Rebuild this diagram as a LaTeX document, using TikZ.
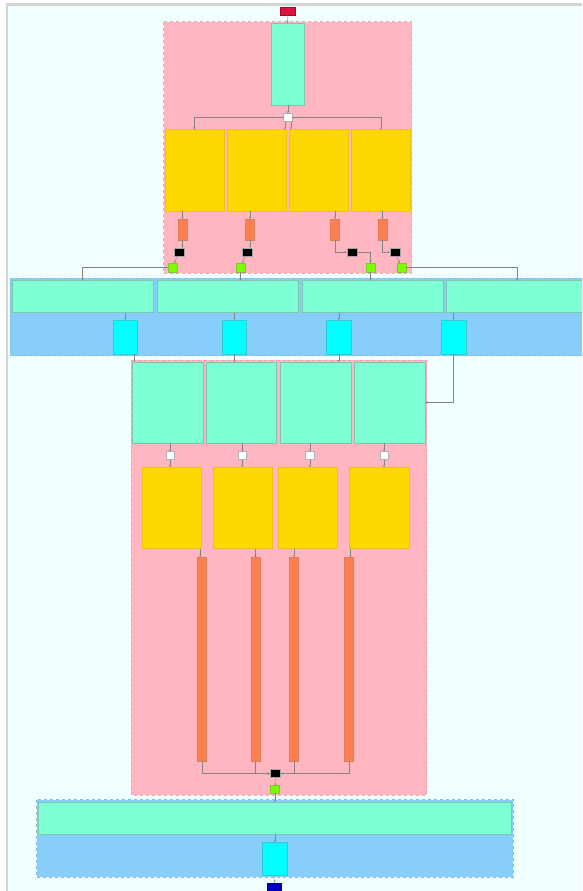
\documentclass[tikz,border=0pt]{standalone}
\usepackage{tikz}
\usetikzlibrary{positioning,calc,arrows.meta}
\definecolor{pagebg}{HTML}{F0FFFF}
\definecolor{framegray}{HTML}{D6D6D6}
\definecolor{clusterpink}{HTML}{FFB6C1}
\definecolor{clusterblue}{HTML}{87CEFA}
\definecolor{aquafill}{HTML}{7FFFD4}
\definecolor{goldfill}{HTML}{FFD700}
\definecolor{coralfill}{HTML}{FF7F50}
\definecolor{cyanfill}{HTML}{00FFFF}
\definecolor{lawnfill}{HTML}{7CFC00}
\definecolor{crimsonfill}{HTML}{DC143C}
\definecolor{sinkfill}{HTML}{0000CD}
\definecolor{wirecol}{HTML}{858585}
\def\WireTip{2.4pt}
\tikzset{
  wire/.style={-{Stealth[length=\WireTip,width=2pt]},draw=wirecol,line width=0.4pt},
  sz/.style 2 args={minimum width=#1pt,minimum height=#2pt},
  blk/.style={rectangle,inner sep=0pt,outer sep=0pt,line width=0.5pt},
  aquabox/.style={blk,fill=aquafill,draw=aquafill!55!gray},
  goldbox/.style={blk,fill=goldfill,draw=goldfill!75!brown},
  coralbox/.style={blk,fill=coralfill,draw=coralfill!70!gray},
  cyanbox/.style={blk,fill=cyanfill,draw=cyanfill!60!gray},
  splitbox/.style={blk,fill=white,draw=gray!60,sz={8.5}{8}},
  poolbox/.style={blk,fill=black,draw=gray!70,sz={10}{8.4}},
  outbox/.style={blk,fill=lawnfill,draw=lawnfill!60!gray,sz={9}{8.5}},
  pinkcluster/.style={fill=clusterpink,draw=clusterpink!80!gray,dashed,line width=0.5pt},
  bluecluster/.style={fill=clusterblue,draw=clusterblue!80!gray,dashed,line width=0.5pt}
}
\begin{document}
\begin{tikzpicture}[x=1pt,y=-1pt]
  \clip (0,0) rectangle (582,891);
  \fill[white] (0,0) rectangle (582,891);
  \fill[framegray] (6,3.5) rectangle (582,891);
  \fill[pagebg] (8,6.5) rectangle (582,891);

  % Clusters behind the nodes.
  \draw[pinkcluster] (163.7,21.7) rectangle (411.7,273.3);
  \draw[bluecluster] (10.4,278) rectangle (600,355.7);
  \draw[pinkcluster] (131,360) rectangle (426.7,795.3);
  \draw[bluecluster] (36.7,799.7) rectangle (513,877.3);

  % First block
  \node[blk,fill=crimsonfill,draw=crimsonfill!70!black,sz={15}{7.5}] (src) at (287.5,11.3) {};
  \node[aquabox,sz={33}{82}] (enc) at (287.8,64.3) {};
  \node[splitbox] (fork) at (287.8,117.5) {};

  \node[goldbox,sz={59}{81.3}] (blkA1) at (194.5,170.3) {};
  \node[goldbox,sz={59}{81.3}] (blkA2) at (256.7,170.3) {};
  \node[goldbox,sz={59}{81.3}] (blkA3) at (318.8,170.3) {};
  \node[goldbox,sz={59}{81.3}] (blkA4) at (380.8,170.3) {};

  \node[coralbox,sz={9}{21}] (actA1) at (182.5,229.5) {};
  \node[coralbox,sz={9}{21}] (actA2) at (250,229.5) {};
  \node[coralbox,sz={9}{21}] (actA3) at (335,229.5) {};
  \node[coralbox,sz={9}{21}] (actA4) at (382.5,229.5) {};

  \node[poolbox] (poolA1) at (179,252) {};
  \node[poolbox] (poolA2) at (247,252) {};
  \node[poolbox] (poolA3) at (352,252) {};
  \node[poolbox] (poolA4) at (395,252) {};

  \node[outbox] (outA1) at (172.5,267.5) {};
  \node[outbox] (outA2) at (240.5,267.5) {};
  \node[outbox] (outA3) at (370.5,267.5) {};
  \node[outbox] (outA4) at (401.5,267.5) {};

  \draw[wire] (src) -- (enc);
  \draw[wire] (enc) -- (fork);
  \draw[wire] (fork.west) -| (blkA1.north);
  \draw[wire] ([xshift=-3pt]fork.south) -- ([xshift=-3pt]fork.south |- blkA2.north);
  \draw[wire] ([xshift=3pt]fork.south) -- ([xshift=3pt]fork.south |- blkA3.north);
  \draw[wire] (fork.east) -| (blkA4.north);
  \draw[wire] (actA1.north |- blkA1.south) -- (actA1);
  \draw[wire] (actA2.north |- blkA2.south) -- (actA2);
  \draw[wire] (actA3.north |- blkA3.south) -- (actA3);
  \draw[wire] (actA4.north |- blkA4.south) -- (actA4);
  \draw[wire] (actA1.south) -- (actA1.south |- poolA1.north);
  \draw[wire] (actA2.south) -- (actA2.south |- poolA2.north);
  \draw[wire] (actA3.south) |- (poolA3.west);
  \draw[wire] (actA4.south) |- (poolA4.west);
  \draw[wire] (poolA1) -- (outA1);
  \draw[wire] (poolA2) -- (outA2);
  \draw[wire] (poolA3.east) -| (outA3.north);
  \draw[wire] (poolA4) -- (outA4);

  % Second block
  \node[aquabox,sz={141}{32}] (mergeB1) at (82.5,296.7) {};
  \node[aquabox,sz={141}{32}] (mergeB2) at (227.5,296.7) {};
  \node[aquabox,sz={141}{32}] (mergeB3) at (372.7,296.7) {};
  \node[aquabox,sz={141}{32}] (mergeB4) at (517,296.7) {};

  \node[cyanbox,sz={24.5}{34}] (projB1) at (125.4,337) {};
  \node[cyanbox,sz={24.5}{34}] (projB2) at (234.4,337) {};
  \node[cyanbox,sz={24.5}{34}] (projB3) at (338.8,337) {};
  \node[cyanbox,sz={24.5}{34}] (projB4) at (453.6,337) {};

  \draw[wire] (outA1.west) -| (mergeB1.north);
  \draw[wire] (outA2.south) -- (outA2.south |- mergeB2.north);
  \draw[wire] (outA3.south) -- (outA3.south |- mergeB3.north);
  \draw[wire] (outA4.east) -| (mergeB4.north);
  \draw[wire] (projB1.north |- mergeB1.south) -- (projB1);
  \draw[wire] (projB2.north |- mergeB2.south) -- (projB2);
  \draw[wire] (projB3.north |- mergeB3.south) -- (projB3);
  \draw[wire] (projB4.north |- mergeB4.south) -- (projB4);

  % Third block
  \node[aquabox,sz={71}{81}] (inC1) at (167.8,402.5) {};
  \node[aquabox,sz={70}{81}] (inC2) at (241.7,402.5) {};
  \node[aquabox,sz={71}{81}] (inC3) at (315.7,402.5) {};
  \node[aquabox,sz={71}{81}] (inC4) at (389.7,402.5) {};

  \node[splitbox] (forkC1) at (170,455.7) {};
  \node[splitbox] (forkC2) at (242.3,455.7) {};
  \node[splitbox] (forkC3) at (309.7,455.7) {};
  \node[splitbox] (forkC4) at (384,455.7) {};

  \node[goldbox,sz={59.4}{81.4}] (blkC1) at (172,508) {};
  \node[goldbox,sz={59}{81.4}] (blkC2) at (243.2,508) {};
  \node[goldbox,sz={59}{81.4}] (blkC3) at (307.8,508) {};
  \node[goldbox,sz={59.3}{81.4}] (blkC4) at (379.3,508) {};

  \node[coralbox,sz={9}{203.7}] (actC1) at (202.2,659.2) {};
  \node[coralbox,sz={9}{203.7}] (actC2) at (255.5,659.2) {};
  \node[coralbox,sz={9}{203.7}] (actC3) at (294,659.2) {};
  \node[coralbox,sz={9}{203.7}] (actC4) at (348.8,659.2) {};

  \node[poolbox,sz={10.7}{8.4}] (joinC) at (275.3,773.5) {};
  \node[outbox,sz={9}{7.6}] (outC) at (275.2,789.5) {};

  \draw[wire] ([xshift=9pt]projB1.south) -- ([xshift=9pt]projB1.south |- inC1.north);
  \draw[wire] (projB2.south) -- (projB2.south |- inC2.north);
  \draw[wire] (projB3.south) -- (projB3.south |- inC3.north);
  \draw[wire] (projB4.south) |- (inC4.east);
  \draw[wire] (forkC1.north |- inC1.south) -- (forkC1);
  \draw[wire] (forkC2.north |- inC2.south) -- (forkC2);
  \draw[wire] (forkC3.north |- inC3.south) -- (forkC3);
  \draw[wire] (forkC4.north |- inC4.south) -- (forkC4);
  \draw[wire] (forkC1.south) -- (forkC1.south |- blkC1.north);
  \draw[wire] (forkC2.south) -- (forkC2.south |- blkC2.north);
  \draw[wire] (forkC3.south) -- (forkC3.south |- blkC3.north);
  \draw[wire] (forkC4.south) -- (forkC4.south |- blkC4.north);
  \draw[wire] ([xshift=-2pt]actC1.north |- blkC1.south) -- ([xshift=-2pt]actC1.north);
  \draw[wire] (actC2.north |- blkC2.south) -- (actC2);
  \draw[wire] (actC3.north |- blkC3.south) -- (actC3);
  \draw[wire] ([xshift=1.5pt]actC4.north |- blkC4.south) -- ([xshift=1.5pt]actC4.north);
  \draw[wire] (actC1.south) |- (joinC.west);
  \draw[wire] (actC2.south) |- (joinC.west);
  \draw[wire] (actC3.south) |- (joinC.east);
  \draw[wire] (actC4.south) |- (joinC.east);
  \draw[wire] (joinC) -- (outC);

  % Last block
  \node[aquabox,sz={473}{31.7}] (mergeD) at (275.2,818.2) {};
  \node[cyanbox,sz={24.6}{33}] (projD) at (275,858.8) {};
  \node[blk,fill=sinkfill,draw=sinkfill!70!black,sz={14}{7.5}] (sink) at (274.7,886.5) {};

  \draw[wire] (outC.south) -- (outC.south |- mergeD.north);
  \draw[wire] (projD.north |- mergeD.south) -- (projD);
  \draw[wire] (projD) -- (sink);
\end{tikzpicture}
\end{document}
